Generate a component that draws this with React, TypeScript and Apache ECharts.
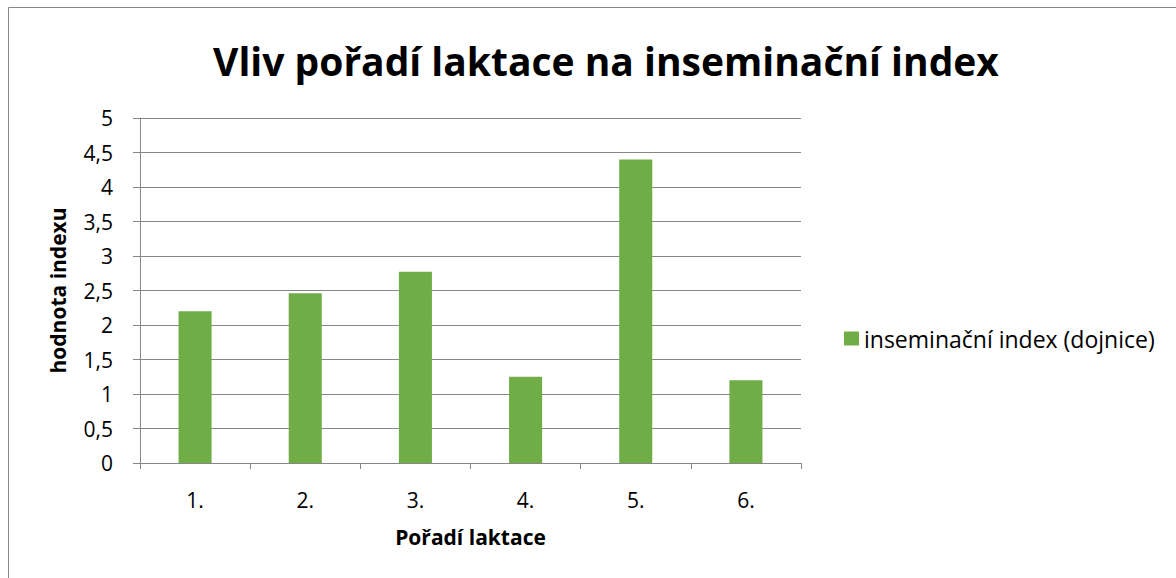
import React, { useEffect, useRef } from "react";
import * as echarts from "echarts";

const categories = ["1.", "2.", "3.", "4.", "5.", "6."];
const values = [2.2, 2.46, 2.77, 1.25, 4.4, 1.2];
const seriesName = "inseminační index (dojnice)";
const titleText = "Vliv pořadí laktace na inseminační index";
const xName = "Pořadí laktace";
const yName = "hodnota indexu";

const FONT = "Open Sans";

export default function App() {
  const ref = useRef<HTMLDivElement>(null);
  useEffect(() => {
    if (!ref.current) return;
    const chart = echarts.init(ref.current, undefined, { renderer: "svg" });
    chart.setOption({
      animation: false,
      backgroundColor: "#ffffff",
      textStyle: { fontFamily: FONT },
      title: {
        text: titleText,
        left: 601,
        textAlign: "center",
        top: 36,
        textStyle: { fontFamily: FONT, fontWeight: "bold", fontSize: 39, color: "#000" },
      },
      legend: {
        data: [seriesName],
        left: 839,
        top: 322,
        orient: "vertical",
        icon: "rect",
        itemWidth: 15,
        itemHeight: 14,
        itemGap: 8,
        textStyle: { fontFamily: FONT, fontSize: 23, color: "#000" },
      },
      grid: { left: 140, right: 375, top: 118, bottom: 115, containLabel: false },
      graphic: [
        {
          type: "rect",
          shape: { x: 8.5, y: 7.5, width: 1200, height: 600 },
          style: { fill: "none", stroke: "#888888", lineWidth: 1 },
          silent: true,
        },
      ],
      xAxis: {
        type: "category",
        data: categories,
        name: xName,
        nameLocation: "middle",
        nameGap: 63,
        nameTextStyle: { fontFamily: FONT, fontWeight: "bold", fontSize: 21, color: "#000" },
        axisLine: { lineStyle: { color: "#868686", width: 1 } },
        axisTick: { show: true, length: 6, lineStyle: { color: "#868686" } },
        axisLabel: { fontFamily: FONT, fontSize: 21, color: "#000", margin: 26 },
      },
      yAxis: {
        type: "value",
        min: 0,
        max: 5,
        interval: 0.5,
        name: yName,
        nameLocation: "middle",
        nameGap: 72,
        nameRotate: 90,
        nameTextStyle: { fontFamily: FONT, fontWeight: "bold", fontSize: 21, color: "#000" },
        axisLine: { show: true, lineStyle: { color: "#868686", width: 1 } },
        axisTick: { show: true, length: 7, lineStyle: { color: "#868686" } },
        axisLabel: {
          fontFamily: FONT,
          fontSize: 21,
          color: "#000",
          margin: 27,
          formatter: (v: number) => String(v).replace(".", ","),
        },
        splitLine: { show: true, lineStyle: { color: "#868686", width: 1 } },
      },
      series: [
        {
          name: seriesName,
          type: "bar",
          data: values,
          barWidth: "30%",
          itemStyle: { color: "#70AD47" },
        },
      ],
    });
    return () => chart.dispose();
  }, []);
  return (
    <div
      ref={ref}
      style={{ position: "absolute", left: 0, top: 0, width: 1176, height: 578 }}
    />
  );
}
